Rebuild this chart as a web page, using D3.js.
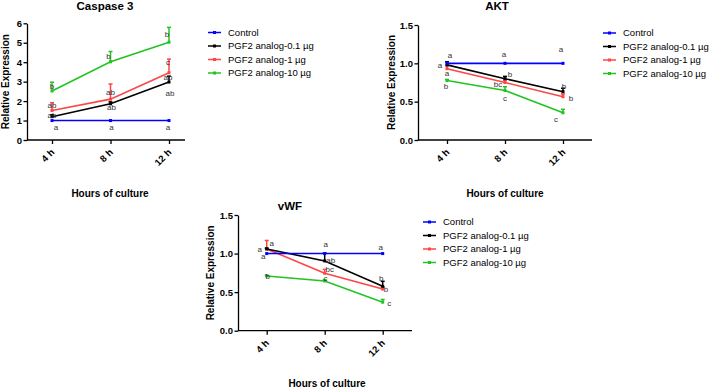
<!DOCTYPE html>
<html>
<head>
<meta charset="utf-8">
<script src="https://cdnjs.cloudflare.com/ajax/libs/d3/7.8.5/d3.min.js"></script>
<style>
  body { margin: 0; background: #fff; }
  svg { display: block; font-family: "Liberation Sans", Arial, sans-serif; }
</style>
</head>
<body>
<div id="chart"></div>
<script>
// x categories and series
var hours = ["4 h", "8 h", "12 h"];
var groups = ["Control", "PGF2 analog-0.1 \u00b5g", "PGF2 analog-1 \u00b5g", "PGF2 analog-10 \u00b5g"];
var groupColors = ["#0000ff", "#000000", "#ff4545", "#22c422"];

// Caspase 3 - means and upper SEM, one row per group
var caspaseMean = [[1, 1, 1], [1.2, 1.86, 2.98], [1.52, 2.1, 3.46], [2.52, 4.02, 5.03]];
var caspaseErr = [[0, 0, 0], [0.1, 0.1, 0.3], [0.4, 0.78, 0.7], [0.45, 0.53, 0.76]];
var caspaseTicks = [0, 1, 2, 3, 4, 5, 6];
// significance letters: [group, hour, letter]
var caspaseLetters = [
  [3, 0, "b"], [2, 0, "ab"], [1, 0, "ab"], [0, 0, "a"],
  [3, 1, "b"], [2, 1, "ab"], [1, 1, "ab"], [0, 1, "a"],
  [3, 2, "b"], [2, 2, "c"], [1, 2, "ab"], [1, 2, "ab"], [0, 2, "a"]
];

// AKT
var aktMean = [[1, 1, 1], [0.98, 0.8, 0.63], [0.93, 0.75, 0.565], [0.775, 0.645, 0.355]];
var aktErr = [[0, 0, 0], [0.04, 0.03, 0.045], [0.04, 0.03, 0.035], [0.015, 0.05, 0.045]];
var aktTicks = [0, 0.5, 1.0, 1.5];
var aktLetters = [
  [0, 0, "a"], [1, 0, "a"], [2, 0, "a"], [3, 0, "b"],
  [0, 1, "a"], [1, 1, "b"], [2, 1, "bc"], [3, 1, "c"],
  [0, 2, "a"], [1, 2, "b"], [2, 2, "b"], [3, 2, "c"]
];

// vWF
var vwfMean = [[1, 1, 1], [1.06, 0.905, 0.575], [1.06, 0.745, 0.54], [0.71, 0.645, 0.37]];
var vwfErr = [[0, 0, 0], [0.01, 0.1, 0.065], [0.11, 0.05, 0.03], [0.01, 0.015, 0.035]];
var vwfTicks = [0, 0.5, 1.0, 1.5];
var vwfLetters = [
  [2, 0, "a"], [1, 0, "a"], [0, 0, "a"], [3, 0, "b"],
  [0, 1, "a"], [1, 1, "ab"], [2, 1, "bc"], [3, 1, "c"],
  [0, 2, "a"], [1, 2, "b"], [2, 2, "b"], [3, 2, "c"]
];

// letter nudges (px) relative to each mean point, same order as the letter lists
var caspaseNudge = [[0, -5], [0, -5], [0, -1], [4, 6.5], [-2, -6], [0, -6.6], [1, 3.7], [1, 6.5],
                    [-2, -8], [-1, -11], [-1, -4.7], [1, 10.7], [-1, 6.5]];
var aktNudge = [[3, -7.7], [-7, 0.7], [0, 4.3], [-1, 6], [-1, -8.7], [5, -4.7], [-7, 1.6], [0, 7.6],
                [-2, -14.4], [1, -6], [8, 1.6], [-7, 6.3]];
var vwfNudge = [[5, -5.7], [-7, 0], [-3.5, 2.4], [1, 0], [1, -9.3], [6, -0.7], [5, -3.6], [0.7, -2.6],
                [-2, -6.6], [-1.4, -8.3], [3.3, 0.3], [6.6, 0.7]];

var W = 709, H = 388;
var svg = d3.select("#chart").append("svg").attr("width", W).attr("height", H);

function drawPanel(p) {
  var x = d3.scalePoint().domain(hours).range([p.xFirst, p.xLast]);
  var y = d3.scaleLinear().domain([0, p.yMax]).range([p.bottom, p.top]);
  var g = svg.append("g");

  // title
  g.append("text").attr("x", p.titleX).attr("y", p.titleY)
    .attr("text-anchor", "middle").attr("font-size", 11.5).attr("font-weight", "bold")
    .text(p.title);

  // y axis
  var ya = g.append("g").attr("transform", "translate(" + p.left + ",0)")
    .call(d3.axisLeft(y).tickValues(p.ticks).tickFormat(d3.format(p.fmt))
      .tickSize(3.5).tickSizeOuter(0).tickPadding(1.5));
  ya.selectAll("text").attr("font-size", 9.5).attr("font-weight", "bold").attr("fill", "#000")
    .attr("font-family", "Liberation Sans, Arial, sans-serif");

  // x axis: ticks from the scale, baseline drawn to the plot end
  var xa = g.append("g").attr("transform", "translate(0," + p.bottom + ")")
    .call(d3.axisBottom(x).tickSize(4).tickSizeOuter(0).tickFormat(""));
  xa.select(".domain").remove();
  g.append("line").attr("x1", p.left).attr("x2", p.xEnd)
    .attr("y1", p.bottom).attr("y2", p.bottom).attr("stroke", "#000");
  g.selectAll(".tick line").attr("stroke", "#000");
  g.selectAll(".domain, .tick line, line").attr("stroke-width", 1.3);

  g.selectAll("text.xlab").data(hours).enter().append("text")
    .attr("class", "xlab")
    .attr("transform", function(d) { return "translate(" + (x(d) + 3) + "," + (p.bottom + 13) + ") rotate(-45)"; })
    .attr("text-anchor", "end").attr("font-size", 9.5).attr("font-weight", "bold")
    .text(function(d) { return d; });

  // axis titles
  g.append("text").attr("x", p.xLabelX).attr("y", p.xLabelY)
    .attr("text-anchor", "middle").attr("font-size", 10).attr("font-weight", "bold")
    .text("Hours of culture");
  g.append("text")
    .attr("transform", "translate(" + p.yLabelX + "," + ((p.top + p.bottom) / 2) + ") rotate(-90)")
    .attr("text-anchor", "middle").attr("dy", "0.35em")
    .attr("font-size", 10).attr("font-weight", "bold")
    .text("Relative Expression");

  var line = d3.line().x(function(d, i) { return x(hours[i]); }).y(function(d) { return y(d); });

  // draw from last group to first so Control sits on top like the original
  var order = [3, 2, 1, 0];
  order.forEach(function(gi) {
    var col = groupColors[gi];
    var means = p.mean[gi], errs = p.err[gi];
    var sg = g.append("g");
    // upper error bars with caps
    means.forEach(function(m, i) {
      if (errs[i] <= 0) return;
      var cx = x(hours[i]);
      sg.append("line").attr("x1", cx).attr("x2", cx)
        .attr("y1", y(m)).attr("y2", y(m + errs[i]))
        .attr("stroke", col).attr("stroke-width", 1.5);
      sg.append("line").attr("x1", cx - 2).attr("x2", cx + 2)
        .attr("y1", y(m + errs[i])).attr("y2", y(m + errs[i]))
        .attr("stroke", col).attr("stroke-width", 1.5);
    });
    sg.append("path").datum(means).attr("d", line)
      .attr("fill", "none").attr("stroke", col).attr("stroke-width", 1.6);
    sg.selectAll("rect").data(means).enter().append("rect")
      .attr("x", function(d, i) { return x(hours[i]) - 1.5; })
      .attr("y", function(d) { return y(d) - 1.5; })
      .attr("width", 3).attr("height", 3).attr("fill", col);
  });

  // significance letters
  g.selectAll("text.sig").data(p.letters).enter().append("text")
    .attr("class", "sig")
    .attr("x", function(d, i) { return x(hours[d[1]]) + p.nudge[i][0]; })
    .attr("y", function(d, i) { return y(p.mean[d[0]][d[1]]) + p.nudge[i][1]; })
    .attr("dy", "0.35em").attr("text-anchor", "middle")
    .attr("font-size", 8).attr("fill", "#333")
    .text(function(d) { return d[2]; });

  // legend
  var lg = g.append("g").attr("transform", "translate(" + p.legendX + "," + p.legendY + ")");
  var items = lg.selectAll("g").data(groups).enter().append("g")
    .attr("transform", function(d, i) { return "translate(0," + (i * 13.5) + ")"; });
  items.append("line").attr("x1", 0).attr("x2", 13).attr("y1", 0).attr("y2", 0)
    .attr("stroke", function(d, i) { return groupColors[i]; }).attr("stroke-width", 1.5);
  items.append("rect").attr("x", 5).attr("y", -1.5).attr("width", 3).attr("height", 3)
    .attr("fill", function(d, i) { return groupColors[i]; });
  items.append("text").attr("x", 20).attr("dy", "0.35em")
    .attr("font-size", 9.5).attr("fill", "#000")
    .text(function(d) { return d; });
}

drawPanel({
  title: "Caspase 3", mean: caspaseMean, err: caspaseErr, letters: caspaseLetters, nudge: caspaseNudge,
  ticks: caspaseTicks, fmt: "d", yMax: 6,
  left: 27, top: 23.3, bottom: 140, xFirst: 52, xLast: 169, xEnd: 185,
  titleX: 105, titleY: 10, yLabelX: 5, xLabelX: 110, xLabelY: 197,
  legendX: 208, legendY: 32.5
});
drawPanel({
  title: "AKT", mean: aktMean, err: aktErr, letters: aktLetters, nudge: aktNudge,
  ticks: aktTicks, fmt: ".1f", yMax: 1.5,
  left: 418, top: 25, bottom: 140, xFirst: 447, xLast: 563, xEnd: 592,
  titleX: 497, titleY: 10, yLabelX: 391, xLabelX: 505, xLabelY: 197,
  legendX: 603, legendY: 33
});
drawPanel({
  title: "vWF", mean: vwfMean, err: vwfErr, letters: vwfLetters, nudge: vwfNudge,
  ticks: vwfTicks, fmt: ".1f", yMax: 1.5,
  left: 238, top: 215, bottom: 330.7, xFirst: 266.7, xLast: 382.7, xEnd: 412,
  titleX: 290, titleY: 210, yLabelX: 210.5, xLabelX: 327, xLabelY: 387,
  legendX: 423, legendY: 222
});
</script>
</body>
</html>
